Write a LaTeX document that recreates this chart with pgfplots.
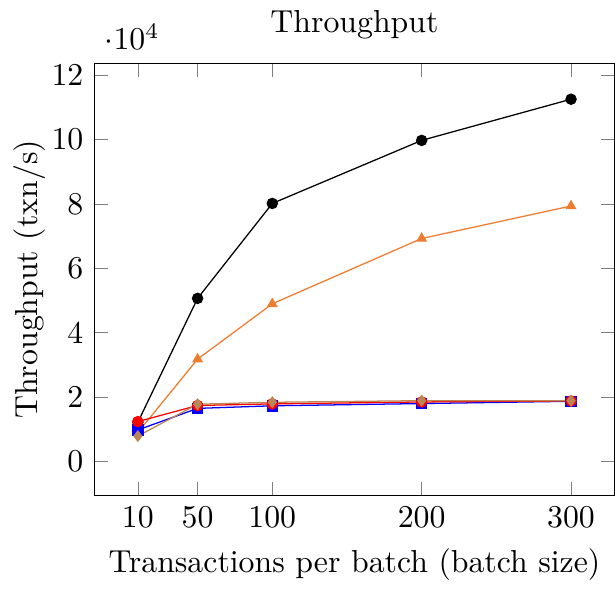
\documentclass[border=0pt]{standalone}
\usepackage{pgfplots}
\pgfplotsset{compat=1.18}
\definecolor{myorange}{RGB}{237,125,49}
\definecolor{mytan}{RGB}{185,135,85}
\begin{document}
\begin{tikzpicture}
\begin{axis}[
    scale only axis,
    width=163.5pt,
    height=136pt,
    title={Throughput},
    title style={yshift=-2pt},
    xlabel={Transactions per batch (batch size)},
    ylabel={Throughput (txn/s)},
    ylabel shift=-5pt,
    xtick={10,50,100,200,300},
    ytick={0,20000,40000,60000,80000,100000,120000},
    scaled y ticks=base 10:-4,
    ymin=-10600, ymax=123800,
    every axis plot/.append style={thin, mark size=1.6pt},
]
\addplot[black, mark=*] coordinates {
(10,12200) (50,50700) (100,80200) (200,99800) (300,112600)
};
\addplot[myorange, mark=triangle*] coordinates {
(10,9000) (50,31800) (100,49000) (200,69300) (300,79400)
};
\addplot[blue, mark=square*] coordinates {
(10,9800) (50,16500) (100,17300) (200,18000) (300,18700)
};
\addplot[red, mark=*] coordinates {
(10,12400) (50,17400) (100,17900) (200,18500) (300,18800)
};
\addplot[mytan, mark=diamond*] coordinates {
(10,7900) (50,17800) (100,18400) (200,18900) (300,18900)
};
\end{axis}
\path ([xshift=-1pt]current axis.outer west);
\end{tikzpicture}
\end{document}
